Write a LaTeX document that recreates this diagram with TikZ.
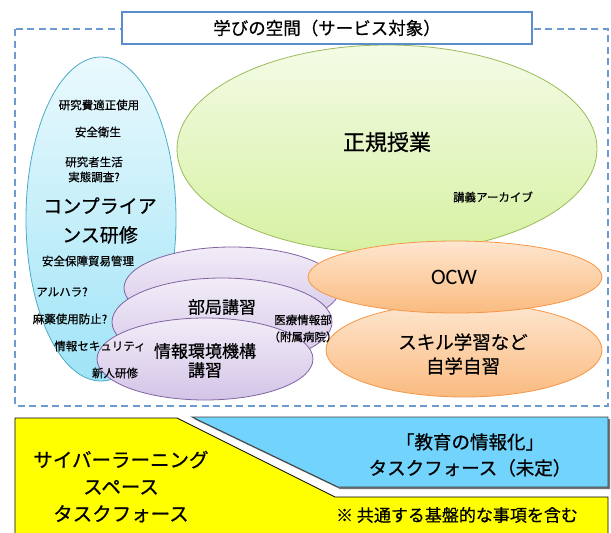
\documentclass[tikz,border=0pt]{standalone}
\usepackage{fontspec}
\setmainfont{Noto Sans CJK JP}[FakeBold=0.6]
\newfontfamily\latinfont{Carlito}
\definecolor{dashcol}{HTML}{6B9BD1}
\definecolor{titleblue}{HTML}{5B8EC9}
\definecolor{cyanT}{HTML}{EAF9FD}
\definecolor{cyanB}{HTML}{A0E4F7}
\definecolor{cyanD}{HTML}{4BACC6}
\definecolor{greenT}{HTML}{F4FBE6}
\definecolor{greenB}{HTML}{D6F1A2}
\definecolor{greenD}{HTML}{9BBB59}
\definecolor{purpleT}{HTML}{F2EDF8}
\definecolor{purpleB}{HTML}{D3C4E7}
\definecolor{purpleD}{HTML}{8064A2}
\definecolor{orangeT}{HTML}{FEE6CF}
\definecolor{orangeB}{HTML}{FABB80}
\definecolor{orangeD}{HTML}{F79646}
\definecolor{tfblue}{HTML}{72D3FD}
\definecolor{tfyellow}{HTML}{FFFF00}
\begin{document}
\begin{tikzpicture}[x=1pt,y=-1pt,
  txt/.style={inner sep=0pt, align=center, text=black},
  small/.style={txt, font=\fontsize{11.5}{15}\selectfont},
  mid/.style={txt, font=\fontsize{17}{19}\selectfont},
  cyanell/.style={draw=cyanD, line width=0.8pt, top color=cyanT, bottom color=cyanB},
  greenell/.style={draw=greenD, line width=0.8pt, top color=greenT, bottom color=greenB},
  purpleell/.style={draw=purpleD, line width=0.8pt, top color=purpleT, bottom color=purpleB},
  orangeell/.style={draw=orangeD, line width=0.8pt, top color=orangeT, bottom color=orangeB},
]
\useasboundingbox (0,0) rectangle (611,533);
\fill[white] (0,0) rectangle (611,533);

% dashed service area
\draw[dashcol, line width=1.6pt, dash pattern=on 7pt off 4.5pt] (15,29) rectangle (608,406);

% ellipses
\path[greenell] (387,149) ellipse [x radius=210pt, y radius=104pt];
\path[cyanell] (101,219) ellipse [x radius=75pt, y radius=162pt];
\path[purpleell] (232,288) ellipse [x radius=108pt, y radius=41pt];
\path[purpleell] (222,322) ellipse [x radius=110pt, y radius=44pt];
\path[purpleell] (205,359) ellipse [x radius=108pt, y radius=41pt];
\path[orangeell] (464,350) ellipse [x radius=138pt, y radius=47pt];
\path[orangeell] (455,277) ellipse [x radius=147pt, y radius=36pt];

% title
\node[draw=titleblue, line width=2pt, fill=white, minimum width=410pt, minimum height=32pt, inner sep=0pt,
  font=\fontsize{17.5}{20}\selectfont] (title) at (327,28) {学びの空間（サービス対象）};

% compliance texts
\node[small] (t1) at (99,105) {研究費適正使用};
\node[small] (t2) at (98,132) {安全衛生};
\node[small] (t3) at (94,169.5) {研究者生活\\実態調査?};
\node[txt, font=\fontsize{19}{29}\selectfont] (comp) at (100,220.5) {コンプライア\\ンス研修};
\node[small] (t4) at (88,261) {安全保障貿易管理};
\node[small] (t5) at (62,292) {アルハラ?};
\node[small] (t6) at (70,319) {麻薬使用防止?};
\node[small] (t7) at (100,346) {情報セキュリティ};
\node[small] (t8) at (115,373) {新人研修};

% regular classes
\node[txt, font=\fontsize{22}{26}\selectfont] (seiki) at (387,142) {正規授業};
\node[small] (arch) at (493,197) {講義アーカイブ};

% department lectures
\node[mid] (bukyoku) at (222,307) {部局講習};
\node[mid] (jouhou) at (205,360.5) {情報環境機構\\講習};
\node[txt, font=\fontsize{11.5}{17}\selectfont] (iryo) at (303,328.5) {医療情報部\\（附属病院）};

% OCW and self study
\node[txt, font=\latinfont\fontsize{22}{24}\selectfont] (ocw) at (454,277) {OCW};
\node[txt, font=\fontsize{18.5}{24}\selectfont] (skill) at (463,354) {スキル学習など\\自学自習};

% task forces
\fill[black!55] (194,419) -- (610,419) -- (610,489) -- (340,489) -- cycle;
\path[fill=tfblue, draw=black!75, line width=0.8pt] (192,417) -- (608,417) -- (608,487) -- (338,487) -- cycle;
\path[fill=tfyellow, draw=black, line width=0.8pt] (15,418) -- (177,418) -- (335,497) -- (608,497) -- (608,540) -- (15,540) -- cycle;

\node[txt, font=\fontsize{19.5}{27}\selectfont] (cyber) at (121,486.5) {サイバーラーニング\\スペース\\タスクフォース};
\node[txt, font=\fontsize{18.5}{26}\selectfont] (kyouiku) at (470,455) {「教育の情報化」\\タスクフォース（未定）};
\node[txt, font=\fontsize{17}{20}\selectfont] (note) at (457,515) {※ 共通する基盤的な事項を含む};
\end{tikzpicture}
\end{document}
